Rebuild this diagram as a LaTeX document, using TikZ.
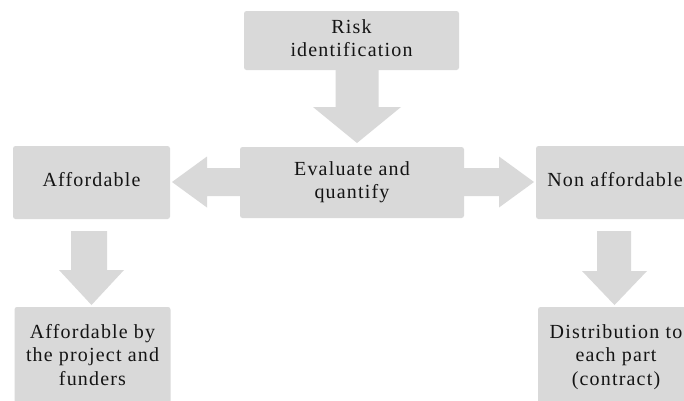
\documentclass[tikz,border=0pt]{standalone}
\usepackage{fontspec}
\setmainfont{Liberation Serif}[LetterSpace=5.9]
\definecolor{boxgray}{HTML}{D9D9D9}
\definecolor{txtcol}{HTML}{141414}
\begin{document}
\begin{tikzpicture}[x=1pt,y=-1pt,
  box/.style={fill=boxgray, rounded corners=2.5pt, inner sep=0pt, align=center,
    text=txtcol, font=\fontsize{20}{23.4}\selectfont, text depth=4.4pt},
  oneline/.style={text height=13.3pt},
  twoline/.style={text height=36.7pt},
  threeline/.style={text height=60.1pt},
  blockarrow/.style={fill=boxgray}]
\useasboundingbox (0,0) rectangle (684,400);
\clip (0,0) rectangle (684,400);
\fill[white] (0,0) rectangle (684,400);
% boxes
\node[box, twoline, minimum width=215pt, minimum height=59pt] (risk) at (351.5,40.5) {Risk\\identification};
\node[box, twoline, minimum width=224pt, minimum height=71pt] (eval) at (352,182.5) {Evaluate and\\quantify};
\node[box, oneline, minimum width=157pt, minimum height=73pt] (aff) at (91.5,182.5) {Affordable};
\node[box, oneline, minimum width=158pt, minimum height=73pt] (naff) at (615,182.5) {Non affordable};
\node[box, threeline, minimum width=156pt, minimum height=100.4pt] (affb) at (92.5,357.2) {Affordable by\\the project and\\funders};
\node[box, threeline, minimum width=156pt, minimum height=100.4pt] (dist) at (616,357.2) {Distribution to\\each part\\(contract)};
% block arrows
% risk -> eval
\fill[blockarrow] (335.5,70) -- (378.5,70) -- (378.5,107) -- (401,107) -- (357,143) -- (313,107) -- (335.5,107) -- cycle;
% eval -> aff
\fill[blockarrow] (240,168) -- (207,168) -- (207,156.5) -- (172,182) -- (207,207.5) -- (207,196) -- (240,196) -- cycle;
% eval -> naff
\fill[blockarrow] (464,168) -- (499,168) -- (499,156.5) -- (534,182) -- (499,207.5) -- (499,196) -- (464,196) -- cycle;
% aff -> affb
\fill[blockarrow] (71,231) -- (107,231) -- (107,270) -- (124,270) -- (91.5,305) -- (59,270) -- (71,270) -- cycle;
% naff -> dist
\fill[blockarrow] (597,231) -- (631,231) -- (631,271) -- (647,271) -- (614.5,305) -- (582,271) -- (597,271) -- cycle;
\end{tikzpicture}
\end{document}
